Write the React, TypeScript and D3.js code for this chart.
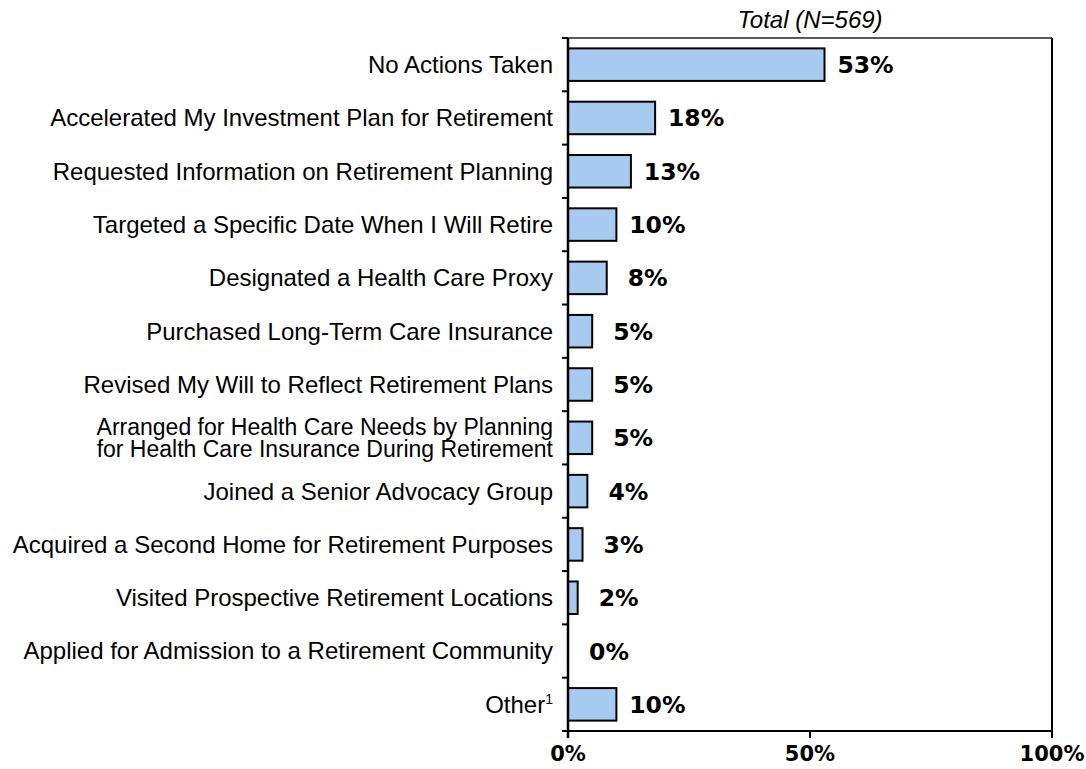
import React from 'react';
import * as d3 from 'd3';

// Chart data
const categories = [
  'No Actions Taken',
  'Accelerated My Investment Plan for Retirement',
  'Requested Information on Retirement Planning',
  'Targeted a Specific Date When I Will Retire',
  'Designated a Health Care Proxy',
  'Purchased Long-Term Care Insurance',
  'Revised My Will to Reflect Retirement Plans',
  'Arranged for Health Care Needs by Planning\nfor Health Care Insurance During Retirement',
  'Joined a Senior Advocacy Group',
  'Acquired a Second Home for Retirement Purposes',
  'Visited Prospective Retirement Locations',
  'Applied for Admission to a Retirement Community',
  'Other',
];
const values = [53, 18, 13, 10, 8, 5, 5, 5, 4, 3, 2, 0, 10];
const xTicks = [0, 50, 100];
const title = 'Total (N=569)';
const footnoteRows = ['Other'];

const W = 1086;
const H = 769;
const margin = { top: 38, right: 34, bottom: 38, left: 568 };
const LABEL_FONT = '"Liberation Sans", Arial, sans-serif';
const BOLD_FONT = '"DejaVu Sans", "Liberation Sans", sans-serif';

export default function App() {
  const x = d3.scaleLinear().domain([0, 100]).range([margin.left, W - margin.right]);
  const y = d3
    .scaleBand<string>()
    .domain(categories)
    .range([margin.top, H - margin.bottom])
    .paddingInner(0.39)
    .paddingOuter(0.195);

  const step = y.step();
  const top = margin.top;
  const bottom = H - margin.bottom;
  const left = x(0);
  const right = x(100);
  const catFs = 24;

  return (
    <svg
      width={W}
      height={H}
      style={{ position: 'absolute', left: 0, top: 0, background: '#fff' }}
    >
      {/* title */}
      <text
        x={(left + right) / 2}
        y={28}
        textAnchor="middle"
        fontFamily={LABEL_FONT}
        fontStyle="italic"
        fontSize={24}
        fill="#000"
      >
        {title}
      </text>

      {/* frame: top and right */}
      <line x1={left - 6} x2={right} y1={top} y2={top} stroke="#222" strokeWidth={1.5} />
      <line x1={right} x2={right} y1={top} y2={bottom} stroke="#000" strokeWidth={2} />

      {/* bars */}
      {categories.map((c, i) => (
        <rect
          key={c}
          x={x(0)}
          y={y(c)}
          width={Math.max(0, x(values[i]) - x(0))}
          height={y.bandwidth()}
          fill="#a6caf0"
          stroke="#000"
          strokeWidth={values[i] > 0 ? 2 : 0}
        />
      ))}

      {/* left axis with category boundary ticks */}
      <line x1={left} x2={left} y1={top} y2={bottom + 7} stroke="#000" strokeWidth={2.5} />
      {d3.range(categories.length + 1).map((i) => (
        <line
          key={'t' + i}
          x1={left - 6}
          x2={left}
          y1={top + i * step}
          y2={top + i * step}
          stroke="#000"
          strokeWidth={2}
        />
      ))}

      {/* bottom axis */}
      <line x1={left - 6} x2={right} y1={bottom} y2={bottom} stroke="#000" strokeWidth={2} />
      {xTicks.map((t) => (
        <g key={'x' + t}>
          <line x1={x(t)} x2={x(t)} y1={bottom} y2={bottom + 7} stroke="#000" strokeWidth={2} />
          <text
            x={x(t)}
            y={bottom + 30}
            textAnchor="middle"
            fontFamily={BOLD_FONT}
            fontWeight="bold"
            fontSize={21}
            fill="#000"
          >
            {t + '%'}
          </text>
        </g>
      ))}

      {/* category labels */}
      {categories.map((c) => {
        const cy = (y(c) as number) + y.bandwidth() / 2;
        const lines = c.split('\n');
        const multi = lines.length > 1;
        const fs = multi ? 23 : catFs;
        const lh = 22;
        return lines.map((ln, k) => (
          <text
            key={'c' + c + k}
            x={553}
            y={cy + fs * 0.35 + (k - (lines.length - 1) / 2) * lh}
            textAnchor="end"
            fontFamily={LABEL_FONT}
            fontSize={fs}
            fill="#000"
          >
            {ln}
            {footnoteRows.includes(ln) && (
              <tspan fontSize={14} dy={-9}>
                1
              </tspan>
            )}
          </text>
        ));
      })}

      {/* value labels */}
      {categories.map((c, i) => (
        <text
          key={'v' + c}
          x={x(values[i]) + 41}
          y={(y(c) as number) + y.bandwidth() / 2 + 8.5}
          textAnchor="middle"
          fontFamily={BOLD_FONT}
          fontWeight="bold"
          fontSize={23.5}
          fill="#000"
        >
          {values[i] + '%'}
        </text>
      ))}
    </svg>
  );
}
